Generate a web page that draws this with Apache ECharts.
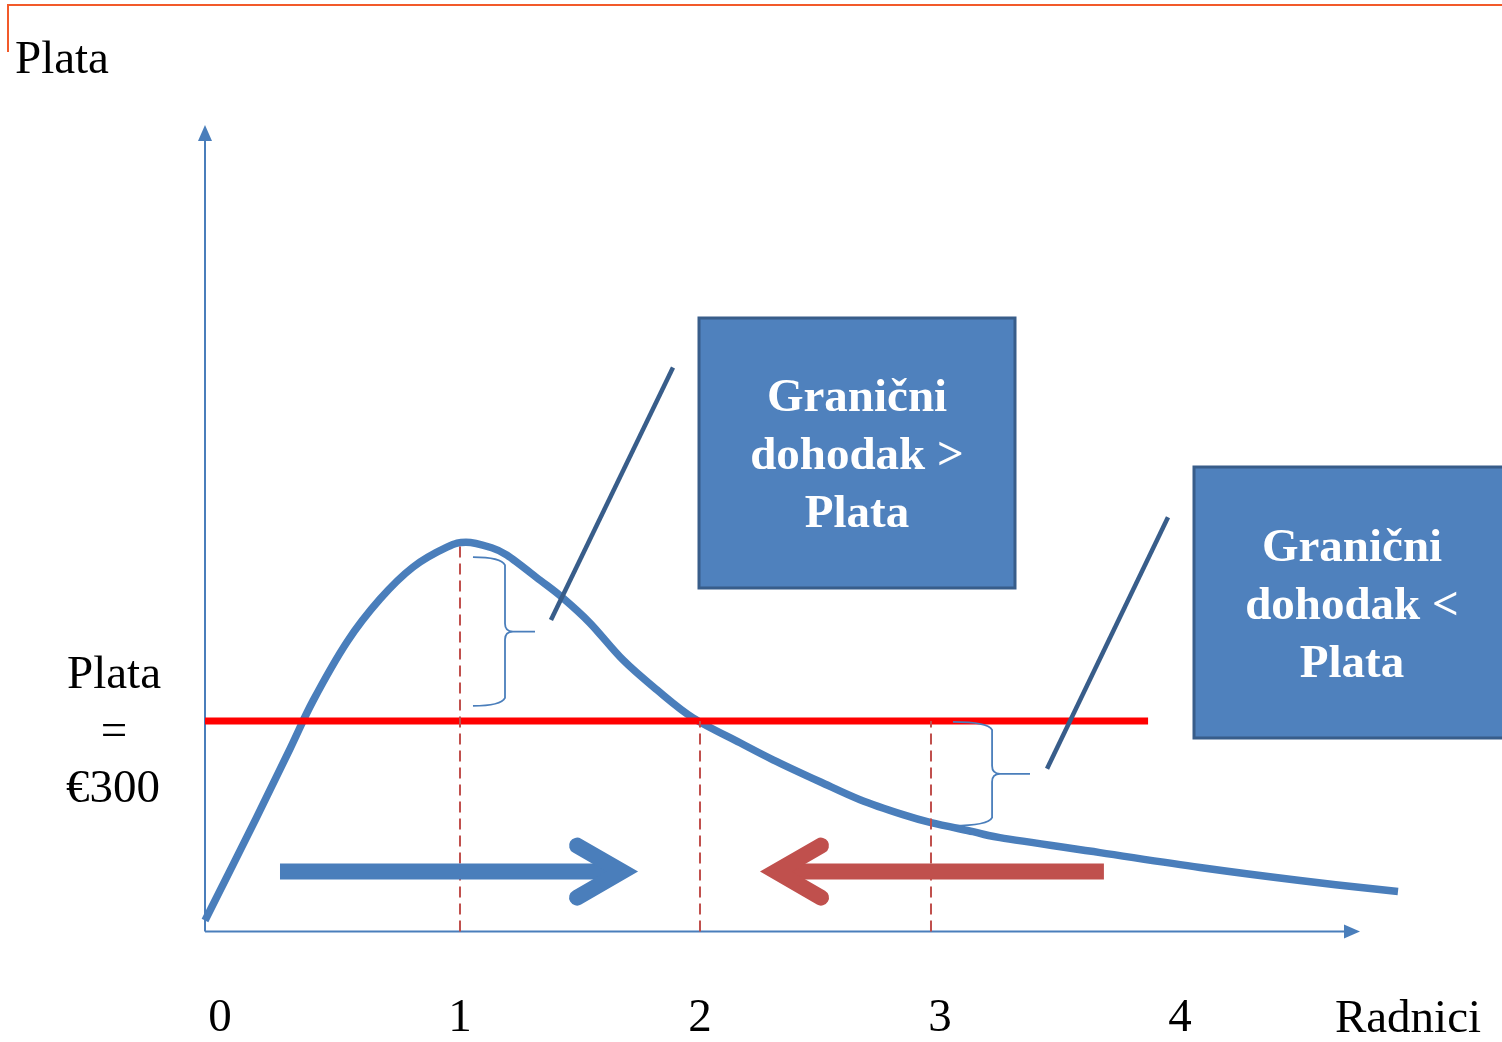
<!DOCTYPE html>
<html>
<head>
<meta charset="utf-8">
<script src="https://cdn.jsdelivr.net/npm/echarts@6/dist/echarts.min.js"></script>
<style>html,body{margin:0;padding:0;background:#fff;}#c{width:1502px;height:1042px;}</style>
</head>
<body>
<div id="c"></div>
<script>
// ---- data ----
const xTicks = [0, 1, 2, 3, 4];
const wage = 300;
const wageLineX = [-0.0625, 3.867];
// marginal revenue curve points [workers, value]
const curveX = [-0.0625, 0.15, 0.2917, 0.3875, 0.5292, 0.6667, 0.8042, 0.9458, 1.025, 1.125, 1.1958, 1.3333, 1.4292, 1.5417, 1.6792, 1.8208, 1.9708, 2.1667, 2.3042, 2.5, 2.6667, 2.8458, 2.9625, 3.1375, 3.25, 3.6667, 4.0833, 4.5, 4.9083];
const curveY = [15.6, 160.7, 260.2, 328.5, 412.4, 473.5, 519.0, 547.4, 554.5, 547.4, 536.1, 500.5, 474.9, 439.4, 386.8, 344.1, 304.3, 268.8, 244.6, 213.3, 187.7, 166.4, 155.0, 142.2, 133.7, 112.4, 91.1, 72.6, 56.9];
// axes drawn as arrows: [x0, y0, x1, y1]
const axisArrows = [[-0.0625, 0, 4.75, 0], [-0.0625, 0, -0.0625, 1148.8]];
// dashed verticals: x and top value
const dashedX = [1, 2, 2.9625];
const dashedTop = [557, 300, 300];
// braces: [leftX, spineX, tipX, topY, bottomY]
const braces = [[1.054, 1.1875, 1.3125, 533.2, 321.3], [3.054, 3.217, 3.375, 298.6, 150.7]];
// pointer lines from braces to boxes
const pointer1 = [[1.379, 443.6], [1.8875, 803.3]];
const pointer2 = [[3.446, 231.8], [3.95, 590]];
// movement arrows: [fromX, toX, y]
const arrowRight = [[0.25, 1.742, 85.3]];
const arrowLeft = [[3.683, 2.25, 85.3]];
const boxText1 = ['Granični', 'dohodak >', 'Plata'];
const boxText2 = ['Granični', 'dohodak <', 'Plata'];

const SERIF = '"Liberation Serif","Times New Roman",serif';
const BLUE = '#4a7ebb';

const chart = echarts.init(document.getElementById('c'), null, {renderer: 'canvas'});

function axisArrowItem(params, api) {
  const a = api.coord([api.value(0), api.value(1)]);
  const b = api.coord([api.value(2), api.value(3)]);
  const dx = b[0] - a[0], dy = b[1] - a[1];
  const len = Math.sqrt(dx * dx + dy * dy);
  const ux = dx / len, uy = dy / len;
  const h = 16, w = 7;
  const base = [b[0] - ux * h, b[1] - uy * h];
  return {
    type: 'group',
    children: [
      {type: 'line', shape: {x1: a[0], y1: a[1], x2: base[0] + ux * 2, y2: base[1] + uy * 2}, style: {stroke: BLUE, lineWidth: 2}},
      {type: 'polygon', shape: {points: [[b[0], b[1]], [base[0] - uy * w, base[1] + ux * w], [base[0] + uy * w, base[1] - ux * w]]}, style: {fill: BLUE}}
    ]
  };
}

// smooth curve through the data points (Catmull-Rom rendered as cubic Beziers)
function curveItem(params, api) {
  if (params.dataIndex !== 0) return null;
  const n = params.dataInsideLength || curveX.length;
  const P = curveX.map((x, i) => api.coord([x, curveY[i]]));
  let d = 'M' + P[0][0] + ' ' + P[0][1];
  for (let i = 0; i < P.length - 1; i++) {
    const p0 = P[Math.max(0, i - 1)], p1 = P[i], p2 = P[i + 1], p3 = P[Math.min(P.length - 1, i + 2)];
    const c1 = [p1[0] + (p2[0] - p0[0]) / 6, p1[1] + (p2[1] - p0[1]) / 6];
    const c2 = [p2[0] - (p3[0] - p1[0]) / 6, p2[1] - (p3[1] - p1[1]) / 6];
    d += ' C' + c1[0] + ' ' + c1[1] + ' ' + c2[0] + ' ' + c2[1] + ' ' + p2[0] + ' ' + p2[1];
  }
  return {type: 'path', shape: {pathData: d}, style: {stroke: api.visual('color'), fill: null, lineWidth: 7.5, lineJoin: 'round'}};
}

function arrowItem(params, api) {
  const s = api.coord([api.value(0), api.value(2)]);
  const t = api.coord([api.value(1), api.value(2)]);
  const dir = t[0] > s[0] ? 1 : -1;
  const vx = t[0] - dir * 16;
  const y = t[1];
  const col = api.visual('color');
  return {
    type: 'group',
    children: [
      {type: 'line', shape: {x1: s[0], y1: y, x2: vx - dir * 6, y2: y}, style: {stroke: col, lineWidth: 16, lineCap: 'butt'}},
      {type: 'polyline', shape: {points: [[vx - dir * 45, y - 26], [vx, y], [vx - dir * 45, y + 26]]}, style: {stroke: col, fill: null, lineWidth: 16, lineCap: 'round', lineJoin: 'miter'}}
    ]
  };
}

function braceItem(params, api) {
  const p0 = api.coord([api.value(0), api.value(3)]);
  const p1 = api.coord([api.value(1), api.value(4)]);
  const x0 = p0[0], x1 = api.coord([api.value(1), 0])[0], x2 = api.coord([api.value(2), 0])[0];
  const yT = p0[1], yB = p1[1], yM = (yT + yB) / 2;
  const r = 8;
  const d = 'M' + x0 + ' ' + (yT) +
    ' Q' + (x1 - 4) + ' ' + yT + ' ' + x1 + ' ' + (yT + r) +
    ' L' + x1 + ' ' + (yM - r) +
    ' Q' + x1 + ' ' + yM + ' ' + (x1 + r) + ' ' + yM +
    ' L' + x2 + ' ' + yM +
    ' M' + (x1 + r) + ' ' + yM +
    ' Q' + x1 + ' ' + yM + ' ' + x1 + ' ' + (yM + r) +
    ' L' + x1 + ' ' + (yB - r) +
    ' Q' + (x1 - 4) + ' ' + yB + ' ' + x0 + ' ' + yB;
  return {type: 'path', shape: {pathData: d}, style: {stroke: BLUE, fill: null, lineWidth: 1.8}};
}

const series = [];
series.push({type: 'custom', renderItem: axisArrowItem, data: axisArrows, z: 1, silent: true, clip: false});
series.push({
  type: 'custom', renderItem: curveItem, data: curveX.map((x, i) => [x, curveY[i]]),
  itemStyle: {color: BLUE}, z: 2, silent: true, clip: false
});
series.push({
  type: 'line', data: wageLineX.map(x => [x, wage]), symbol: 'none', clip: false,
  lineStyle: {color: '#ff0000', width: 7}, z: 3, silent: true
});
dashedX.forEach((x, i) => {
  series.push({
    type: 'line', data: [[x, 0], [x, dashedTop[i]]], symbol: 'none', clip: false,
    lineStyle: {color: '#c0504d', width: 2, type: [11, 6]}, z: 4, silent: true
  });
});
series.push({type: 'custom', renderItem: braceItem, data: braces, z: 5, silent: true, clip: false});
[pointer1, pointer2].forEach(p => {
  series.push({type: 'line', data: p, symbol: 'none', clip: false, lineStyle: {color: '#385d8a', width: 4.5}, z: 6, silent: true});
});
series.push({type: 'custom', renderItem: arrowItem, data: arrowRight, itemStyle: {color: BLUE}, z: 7, silent: true, clip: false});
series.push({type: 'custom', renderItem: arrowItem, data: arrowLeft, itemStyle: {color: '#c0504d'}, z: 7, silent: true, clip: false});

const FS = 47;
const option = {
  animation: false,
  backgroundColor: '#ffffff',
  grid: {left: 205, right: 102, top: 125, bottom: 109, containLabel: false},
  xAxis: {
    type: 'value', min: -0.0625, max: 4.9167,
    axisLine: {show: false},
    axisTick: {show: false}, splitLine: {show: false},
    axisLabel: {customValues: xTicks, fontSize: FS, fontFamily: SERIF, color: '#000', margin: 87, verticalAlign: 'middle'}
  },
  yAxis: {
    type: 'value', min: 0, max: 1148.8,
    axisLine: {show: false}, axisTick: {show: false}, splitLine: {show: false}, axisLabel: {show: false}
  },
  series: series,
  graphic: [
    {type: 'polyline', shape: {points: [[8, 52], [8, 5], [1502, 5]]}, style: {stroke: '#f25a2a', lineWidth: 2, fill: null}, z: 10},
    {type: 'text', x: 15, y: 61, style: {text: 'Plata', font: FS + 'px ' + SERIF, fill: '#000', align: 'left', verticalAlign: 'middle'}},
    {type: 'text', x: 114, y: 676, style: {text: 'Plata', font: FS + 'px ' + SERIF, fill: '#000', align: 'center', verticalAlign: 'middle'}},
    {type: 'text', x: 114, y: 733, style: {text: '=', font: FS + 'px ' + SERIF, fill: '#000', align: 'center', verticalAlign: 'middle'}},
    {type: 'text', x: 113, y: 790, style: {text: '€300', font: FS + 'px ' + SERIF, fill: '#000', align: 'center', verticalAlign: 'middle'}},
    {type: 'text', x: 1408, y: 1020, style: {text: 'Radnici', font: FS + 'px ' + SERIF, fill: '#000', align: 'center', verticalAlign: 'middle'}},
    {type: 'rect', shape: {x: 699, y: 318, width: 316, height: 270}, style: {fill: '#4f81bd', stroke: '#385d8a', lineWidth: 3}, z: 8},
    {type: 'text', x: 857, y: 457, z: 9, style: {text: boxText1.join('\n'), font: 'bold ' + FS + 'px ' + SERIF, fill: '#fff', align: 'center', verticalAlign: 'middle', lineHeight: 58}},
    {type: 'rect', shape: {x: 1194, y: 467, width: 330, height: 271}, style: {fill: '#4f81bd', stroke: '#385d8a', lineWidth: 3}, z: 8},
    {type: 'text', x: 1352, y: 607, z: 9, style: {text: boxText2.join('\n'), font: 'bold ' + FS + 'px ' + SERIF, fill: '#fff', align: 'center', verticalAlign: 'middle', lineHeight: 58}}
  ]
};
chart.setOption(option);
</script>
</body>
</html>
